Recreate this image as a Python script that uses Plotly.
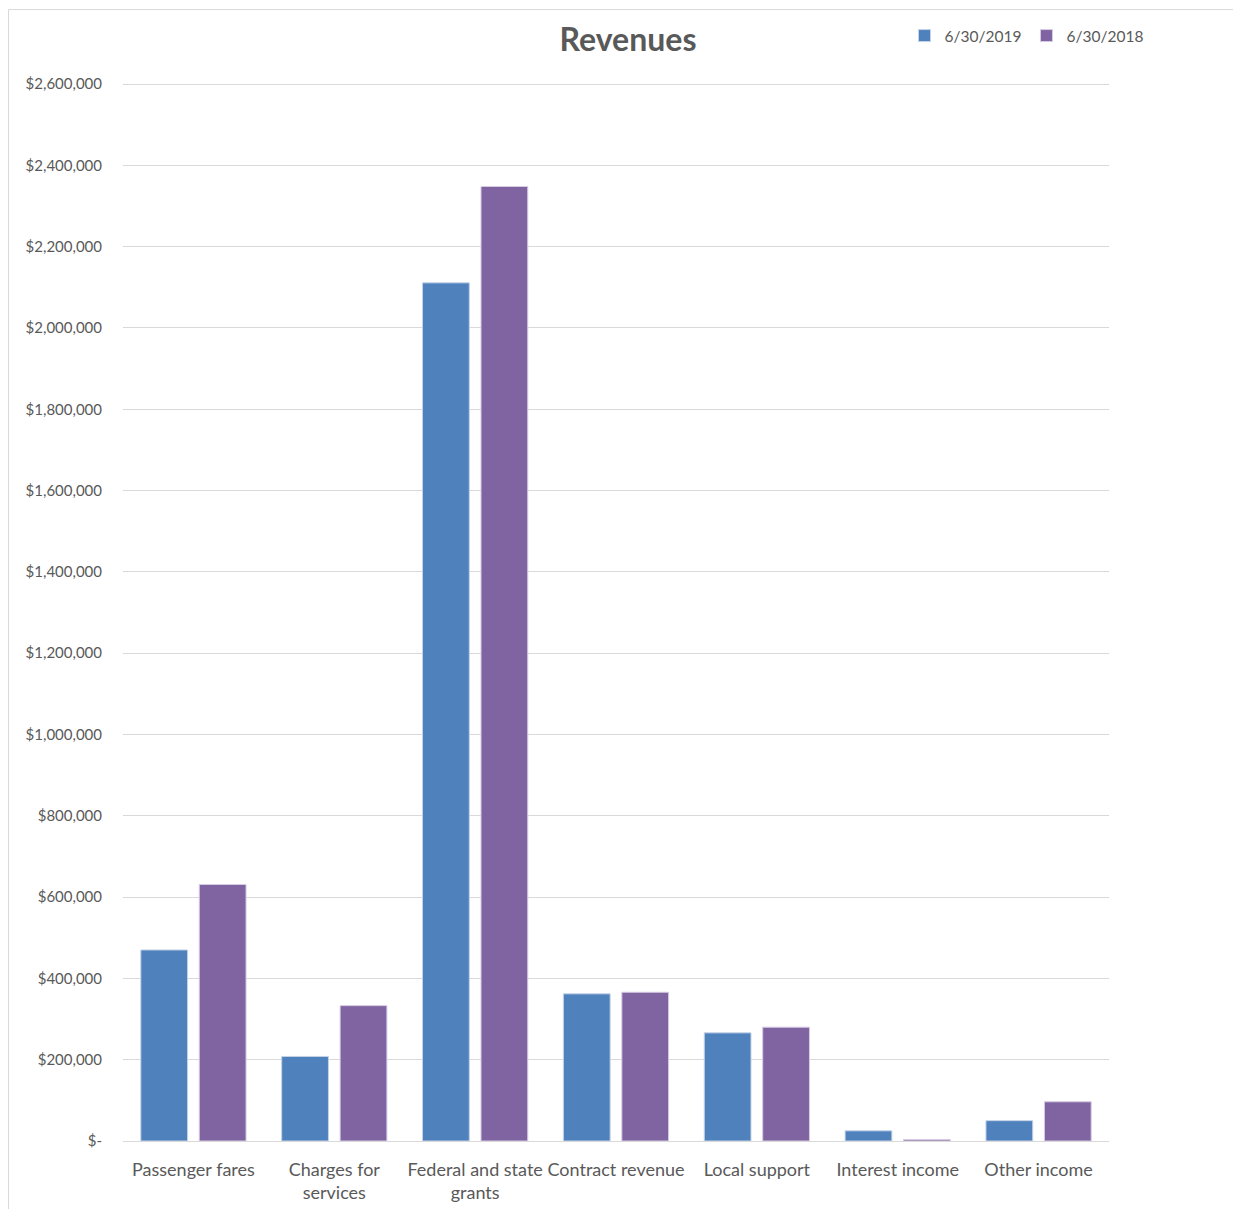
import plotly.graph_objects as go

categories = ["Passenger fares", "Charges for<br>services", "Federal and state<br>grants",
              "Contract revenue", "Local support", "Interest income", "Other income"]
values_2019 = [470000, 208000, 2111000, 362000, 266000, 25000, 50000]
values_2018 = [631000, 333000, 2348000, 366000, 280000, 3500, 96500]
series_names = ["6/30/2019", "6/30/2018"]
tick_vals = [0, 200000, 400000, 600000, 800000, 1000000, 1200000, 1400000,
             1600000, 1800000, 2000000, 2200000, 2400000, 2600000]
tick_text = ["$-"] + ["${:,}".format(v) for v in tick_vals[1:]]

FONT = "Lato"
TXT = "#595959"

fig = go.Figure()
fig.add_trace(go.Bar(x=categories, y=values_2019, name=series_names[0],
                     marker=dict(color="#4f81bd", line=dict(color="#c5d3e8", width=1))))
fig.add_trace(go.Bar(x=categories, y=values_2018, name=series_names[1],
                     marker=dict(color="#8064a2", line=dict(color="#d6cce3", width=1))))

# page body has an 8px margin; plot area target: x 123..1109, y 83..1141 (0..2.6M)
W, H = 1233, 1201
PH = 1062  # plot height incl. small headroom above 2.6M
fig.update_layout(
    width=W, height=H,
    margin=dict(l=115, r=132, t=H - 68 - PH, b=68),
    paper_bgcolor="white", plot_bgcolor="white",
    barmode="group", bargap=0.17, bargroupgap=0.2,
    font=dict(family=FONT, color=TXT),
    title=dict(text="<b>Revenues</b>", x=(628 - 8) / W, xanchor="center", y=1 - 32 / H,
               yanchor="middle", font=dict(family=FONT, size=32, color=TXT)),
    legend=dict(orientation="h", x=1.035 + 5 / 986, xanchor="right",
                y=(1141 - 36) / PH, yanchor="middle",
                font=dict(family=FONT, size=15.5, color=TXT), bgcolor="rgba(0,0,0,0)",
                itemwidth=30, traceorder="normal"),
    showlegend=True,
)
fig.update_yaxes(range=[0, 2610000], tickvals=tick_vals, ticktext=tick_text,
                 showgrid=True, gridcolor="#d9d9d9", gridwidth=1,
                 zeroline=True, zerolinecolor="#d9d9d9", zerolinewidth=1,
                 showline=False, ticks="", ticklabelstandoff=20, automargin=False,
                 tickfont=dict(family=FONT, size=15, color=TXT))
fig.update_xaxes(showgrid=False, showline=False, ticks="", ticklabelstandoff=16,
                 automargin=False,
                 tickfont=dict(family=FONT, size=18, color=TXT))

fig.add_shape(type="line", xref="paper", yref="paper",
              x0=(8.5 - 123) / 986, x1=(8.5 - 123) / 986, y0=-0.1, y1=(1141 - 8.5) / PH,
              line=dict(color="#d9d9d9", width=1))
fig.add_shape(type="line", xref="paper", yref="paper",
              x0=(8.5 - 123) / 986, x1=(1241 - 123) / 986, y0=(1141 - 8.5) / PH, y1=(1141 - 8.5) / PH,
              line=dict(color="#d9d9d9", width=1))

fig.write_html("out.html")
